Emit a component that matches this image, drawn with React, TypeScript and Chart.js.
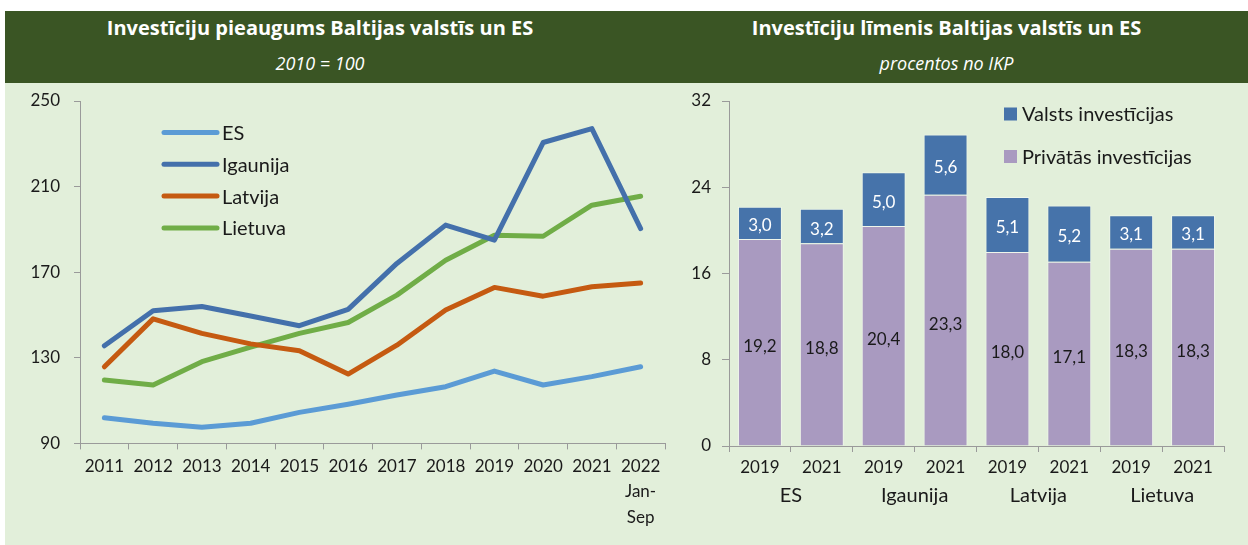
import React, { useEffect, useRef } from 'react';
import { Chart, registerables } from 'chart.js';

Chart.register(...registerables);

// ---- Left chart data (2010 = 100) ----
const lineYears: (string | string[])[] = ['2011', '2012', '2013', '2014', '2015', '2016', '2017', '2018', '2019', '2020', '2021', ['2022', 'Jan-', 'Sep']];
const esValues = [102.0, 99.4, 97.5, 99.4, 104.5, 108.3, 112.6, 116.5, 123.8, 117.3, 121.2, 125.8];
const igaunijaValues = [135.6, 152.0, 154.0, 149.5, 145.0, 152.6, 174.1, 192.0, 185.0, 230.6, 237.1, 190.4];
const latvijaValues = [125.8, 148.2, 141.4, 136.5, 133.3, 122.4, 135.9, 152.3, 162.9, 158.8, 163.2, 165.0];
const lietuvaValues = [119.6, 117.3, 128.2, 135.0, 141.4, 146.5, 159.3, 175.6, 187.3, 186.8, 201.3, 205.5];
const lineSeriesNames = ['ES', 'Igaunija', 'Latvija', 'Lietuva'];
const lineTicks = [90, 130, 170, 210, 250];

// ---- Right chart data (% of GDP) ----
const barYears = ['2019', '2021', '2019', '2021', '2019', '2021', '2019', '2021'];
const barCountries = ['ES', 'Igaunija', 'Latvija', 'Lietuva'];
const privateValues = [19.2, 18.8, 20.4, 23.3, 18.0, 17.1, 18.3, 18.3];
const publicValues = [3.0, 3.2, 5.0, 5.6, 5.1, 5.2, 3.1, 3.1];
const barSeriesNames = ['Privātās investīcijas', 'Valsts investīcijas'];
const barTicks = [0, 8, 16, 24, 32];

const FONT = 'Lato';
const TITLE_FONT = '"Open Sans"';
const TEXT = '#1a1a1a';
const AXIS = '#9a9a9a';
const LINE_COLORS = ['#5b9bd5', '#4470ab', '#c55a11', '#70ad47'];
const PRIVATE_COLOR = '#a99ac0';
const PUBLIC_COLOR = '#4673aa';

const fmt = (v: number) => v.toFixed(1).replace('.', ',');

const lineLegendPlugin = {
  id: 'lineLegend',
  afterDraw(chart: any) {
    const ctx = chart.ctx;
    const area = chart.chartArea;
    ctx.save();
    chart.data.datasets.forEach((ds: any, i: number) => {
      const y = area.top + 31.5 + i * 31.8;
      const x0 = area.left + 84;
      const x1 = area.left + 137;
      ctx.strokeStyle = ds.borderColor;
      ctx.lineWidth = 5;
      ctx.lineCap = 'round';
      ctx.beginPath();
      ctx.moveTo(x0, y);
      ctx.lineTo(x1, y);
      ctx.stroke();
      ctx.fillStyle = TEXT;
      ctx.font = `20px ${FONT}`;
      ctx.textBaseline = 'middle';
      ctx.textAlign = 'left';
      ctx.fillText(ds.label, x1 + 5, y + 1);
    });
    ctx.restore();
  },
};

const barExtrasPlugin = {
  id: 'barExtras',
  afterDatasetsDraw(chart: any) {
    const ctx = chart.ctx;
    ctx.save();
    ctx.font = `17px ${FONT}`;
    ctx.textAlign = 'center';
    ctx.textBaseline = 'middle';
    chart.data.datasets.forEach((ds: any, di: number) => {
      const meta = chart.getDatasetMeta(di);
      meta.data.forEach((bar: any, i: number) => {
        const cy = (bar.y + bar.base) / 2 + (di === 0 ? 4 : 3);
        ctx.fillStyle = di === 0 ? TEXT : '#ffffff';
        ctx.fillText(fmt(ds.data[i]), bar.x, cy);
      });
    });
    // legend (inside chart area, top right)
    const area = chart.chartArea;
    const items = [
      { label: chart.data.datasets[1].label, color: chart.data.datasets[1].backgroundColor, y: area.top + 13 },
      { label: chart.data.datasets[0].label, color: chart.data.datasets[0].backgroundColor, y: area.top + 55.5 },
    ];
    ctx.font = `20px ${FONT}`;
    ctx.textAlign = 'left';
    items.forEach((it) => {
      const x = area.left + 275;
      ctx.fillStyle = it.color;
      ctx.fillRect(x, it.y - 6.5, 13, 13);
      ctx.fillStyle = TEXT;
      ctx.fillText(it.label, x + 18, it.y + 1);
    });
    ctx.restore();
  },
};

const fitY = (width: number) => (s: any) => {
  s.width = width;
  s.paddingTop = 0;
  s.paddingBottom = 0;
};
const fitX = (height: number) => (s: any) => {
  s.height = height;
  s.paddingLeft = 0;
  s.paddingRight = 0;
};

export default function App() {
  const lineRef = useRef<HTMLCanvasElement>(null);
  const barRef = useRef<HTMLCanvasElement>(null);

  useEffect(() => {
    const tickFont = { family: FONT, size: 17 };
    const lineChart = new Chart(lineRef.current!, {
      type: 'line',
      data: {
        labels: lineYears as any,
        datasets: [esValues, igaunijaValues, latvijaValues, lietuvaValues].map((d, i) => ({
          label: lineSeriesNames[i],
          data: d,
          borderColor: LINE_COLORS[i],
          backgroundColor: LINE_COLORS[i],
          borderWidth: 5,
          pointRadius: 0,
          tension: 0,
          borderCapStyle: 'round' as const,
          borderJoinStyle: 'round' as const,
          fill: false,
        })),
      },
      options: {
        responsive: false,
        animation: false,
        devicePixelRatio: 1,
        layout: { padding: { top: 16, right: 20, left: 0, bottom: 0 } },
        plugins: { legend: { display: false }, tooltip: { enabled: false } },
        scales: {
          x: {
            type: 'category',
            offset: true,
            grid: { offset: true, drawOnChartArea: false, drawTicks: true, tickLength: 6, color: AXIS },
            border: { color: AXIS, width: 1 },
            ticks: { font: { ...tickFont, lineHeight: 1.5 }, color: TEXT, padding: 4, maxRotation: 0, autoSkip: false },
            afterFit: fitX(101.6),
          },
          y: {
            min: 90,
            max: 250,
            afterBuildTicks: (s: any) => { s.ticks = lineTicks.map((v) => ({ value: v })); },
            grid: { drawOnChartArea: false, drawTicks: true, tickLength: 6, color: AXIS },
            border: { color: AXIS, width: 1 },
            ticks: { font: tickFont, color: TEXT, padding: 14 },
            afterFit: fitY(75),
          },
        },
      },
      plugins: [lineLegendPlugin],
    } as any);

    const barChart = new Chart(barRef.current!, {
      type: 'bar',
      data: {
        labels: barYears,
        datasets: [
          { label: barSeriesNames[0], data: privateValues, backgroundColor: PRIVATE_COLOR, borderColor: 'rgba(255,255,255,0.45)', borderWidth: 1, barPercentage: 0.71, categoryPercentage: 1, xAxisID: 'x' },
          { label: barSeriesNames[1], data: publicValues, backgroundColor: PUBLIC_COLOR, borderColor: 'rgba(255,255,255,0.45)', borderWidth: 1, barPercentage: 0.71, categoryPercentage: 1, xAxisID: 'x' },
        ],
      },
      options: {
        responsive: false,
        animation: false,
        devicePixelRatio: 1,
        layout: { padding: { top: 16, right: 24, left: 0, bottom: 0 } },
        plugins: { legend: { display: false }, tooltip: { enabled: false } },
        scales: {
          x: {
            type: 'category',
            stacked: true,
            weight: 0,
            offset: true,
            grid: { offset: true, drawOnChartArea: false, drawTicks: true, tickLength: 6, color: AXIS },
            border: { color: AXIS, width: 1 },
            ticks: { font: tickFont, color: TEXT, padding: 5, maxRotation: 0, autoSkip: false },
            afterFit: fitX(36),
          },
          x2: {
            type: 'category',
            position: 'bottom',
            weight: 1,
            labels: barCountries,
            offset: true,
            grid: { display: false, drawTicks: false },
            border: { display: false },
            ticks: { font: { family: FONT, size: 20 }, color: TEXT, padding: 2, maxRotation: 0, autoSkip: false },
            afterFit: fitX(63),
          },
          y: {
            stacked: true,
            min: 0,
            max: 32,
            afterBuildTicks: (s: any) => { s.ticks = barTicks.map((v) => ({ value: v })); },
            grid: { drawOnChartArea: false, drawTicks: true, tickLength: 7, color: AXIS },
            border: { color: AXIS, width: 1 },
            ticks: { font: tickFont, color: TEXT, padding: 11 },
            afterFit: fitY(49),
          },
        },
      },
      plugins: [barExtrasPlugin],
    } as any);

    return () => {
      lineChart.destroy();
      barChart.destroy();
    };
  }, []);

  const titleStyle: React.CSSProperties = { position: 'absolute', top: 17, textAlign: 'center', color: '#fff', fontFamily: TITLE_FONT, fontWeight: 700, fontSize: 20, lineHeight: '22px' };
  const subStyle: React.CSSProperties = { position: 'absolute', top: 52, textAlign: 'center', color: '#fff', fontFamily: TITLE_FONT, fontStyle: 'italic', fontSize: 18, lineHeight: '22px' };

  return (
    <div style={{ position: 'fixed', left: 0, top: 0, width: 1248, height: 545, background: '#ffffff', overflow: 'hidden', fontFamily: FONT }}>
      <div style={{ position: 'absolute', left: 5, top: 11, width: 1243, height: 534, background: '#e2efda' }} />
      <div style={{ position: 'absolute', left: 5, top: 11, width: 1243, height: 72, background: '#3a5524' }} />
      <div style={{ ...titleStyle, left: 5, width: 630 }}>Investīciju pieaugums Baltijas valstīs un ES</div>
      <div style={{ ...subStyle, left: 5, width: 630 }}>2010 = 100</div>
      <div style={{ ...titleStyle, left: 646, width: 601 }}>Investīciju līmenis Baltijas valstīs un ES</div>
      <div style={{ ...subStyle, left: 646, width: 601 }}>procentos no IKP</div>
      <canvas ref={lineRef} width={680} height={460} style={{ position: 'absolute', left: 5, top: 85, width: 680, height: 460 }} />
      <canvas ref={barRef} width={568} height={460} style={{ position: 'absolute', left: 680, top: 85, width: 568, height: 460 }} />
    </div>
  );
}
